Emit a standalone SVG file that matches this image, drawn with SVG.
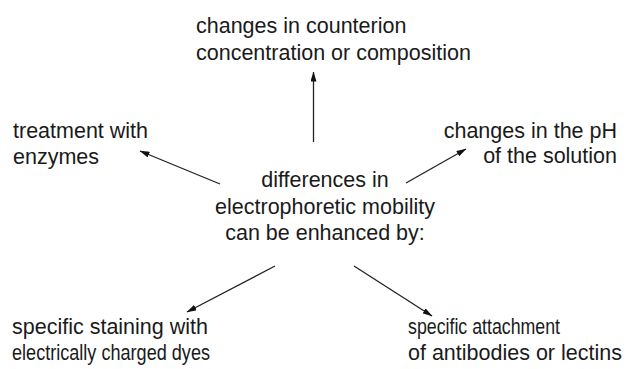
<svg xmlns="http://www.w3.org/2000/svg" width="626" height="369" viewBox="0 0 626 369">
<defs>
<marker id="ah" viewBox="0 0 10 6" refX="9.5" refY="3" markerWidth="10" markerHeight="6" markerUnits="userSpaceOnUse" orient="auto">
<path d="M0,0 L10,3 L0,6 Z" fill="#111"/>
</marker>
<style>
text{font-family:"Liberation Sans",Arial,Helvetica,sans-serif;font-size:21.5px;fill:#1a1a1a}
.c{text-anchor:middle}
.e{text-anchor:end}
line{stroke:#222;stroke-width:1.3;marker-end:url(#ah)}
</style>
</defs>
<rect width="626" height="369" fill="#fff"/>
<g id="center"><text class="c" x="325" y="187">differences in</text><text class="c" x="325" y="214">electrophoretic mobility</text><text class="c" x="325" y="240">can be enhanced by:</text></g>
<g id="top"><text x="196" y="33">changes in counterion</text><text x="196" y="60">concentration or composition</text></g>
<g id="left"><text x="13" y="138">treatment with</text><text x="13" y="164">enzymes</text></g>
<g id="right"><text class="e" x="617" y="138">changes in the pH</text><text class="e" x="617" y="163">of the solution</text></g>
<g id="bottomleft"><text x="12" y="334">specific staining with</text><text x="12" y="360" textLength="198" lengthAdjust="spacingAndGlyphs">electrically charged dyes</text></g>
<g id="bottomright"><text x="408" y="334" textLength="152" lengthAdjust="spacingAndGlyphs">specific attachment</text><text x="408" y="360">of antibodies or lectins</text></g>
<g id="connectors">
<line x1="313.5" y1="142" x2="313.5" y2="72"/>
<line x1="220" y1="184" x2="140" y2="151"/>
<line x1="406" y1="183" x2="466" y2="149"/>
<line x1="275" y1="266" x2="187" y2="312"/>
<line x1="354" y1="266" x2="432" y2="316"/>
</g>
</svg>
